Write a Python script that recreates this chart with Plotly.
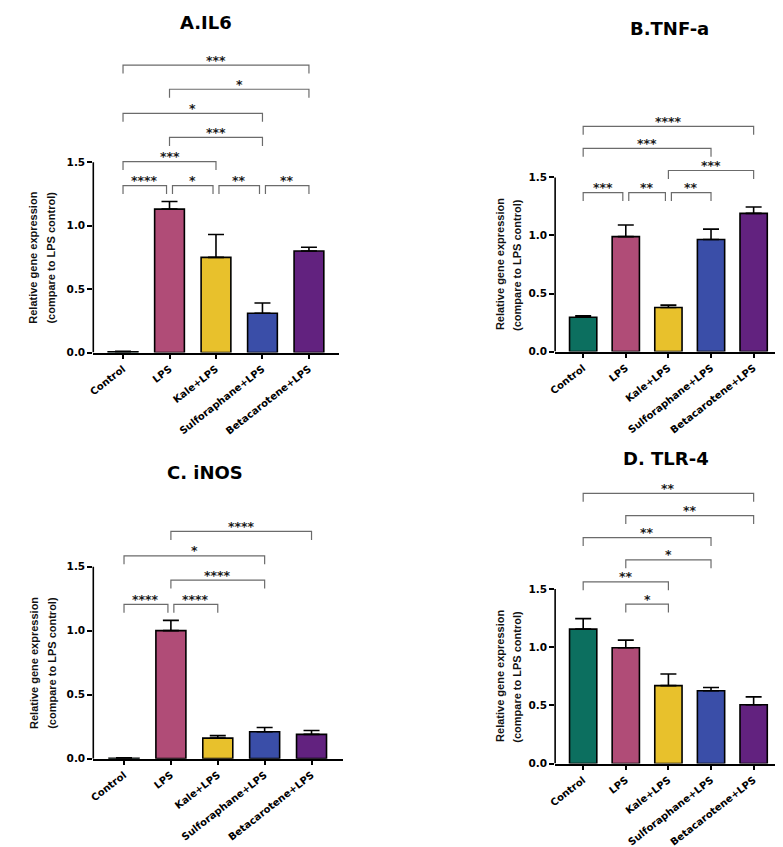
import plotly.graph_objects as go

W, H = 783, 847

categories = ["Control", "LPS", "Kale+LPS", "Sulforaphane+LPS", "Betacarotene+LPS"]
bar_colors = ["#0c6f5f", "#b04c77", "#e8c12c", "#3a4ea8", "#62227f"]

il6_mean = [0.005, 1.13, 0.75, 0.31, 0.80]
il6_sem = [0.005, 0.06, 0.18, 0.08, 0.03]
il6_comparisons = [(0, 1, "****"), (1, 2, "*"), (2, 3, "**"), (3, 4, "**"),
                   (0, 2, "***"), (1, 3, "***"), (0, 3, "*"), (1, 4, "*"), (0, 4, "***")]

tnf_mean = [0.295, 0.99, 0.38, 0.965, 1.19]
tnf_sem = [0.012, 0.10, 0.02, 0.09, 0.055]
tnf_comparisons = [(0, 1, "***"), (1, 2, "**"), (2, 3, "**"),
                   (2, 4, "***"), (0, 3, "***"), (0, 4, "****")]

inos_mean = [0.003, 1.0, 0.16, 0.21, 0.19]
inos_sem = [0.003, 0.08, 0.02, 0.033, 0.03]
inos_comparisons = [(0, 1, "****"), (1, 2, "****"), (1, 3, "****"),
                    (0, 3, "*"), (1, 4, "****")]

tlr4_mean = [1.155, 0.995, 0.67, 0.625, 0.505]
tlr4_sem = [0.09, 0.065, 0.10, 0.028, 0.068]
tlr4_comparisons = [(1, 2, "*"), (0, 2, "**"), (1, 3, "*"),
                    (0, 3, "**"), (1, 4, "**"), (0, 4, "**")]

titles = ["A.IL6", "B.TNF-a", "C. iNOS", "D. TLR-4"]
ytitle_lines = ["Relative gene expression", "(compare to LPS control)"]
ytick_vals = [0, 0.5, 1.0, 1.5]
ytick_text = ["0.0", "0.5", "1.0", "1.5"]

panels_data = [
    (il6_mean, il6_sem, il6_comparisons),
    (tnf_mean, tnf_sem, tnf_comparisons),
    (inos_mean, inos_sem, inos_comparisons),
    (tlr4_mean, tlr4_sem, tlr4_comparisons),
]

# pixel geometry of each panel (layout only)
geom = [
    dict(left=79, right=327, c0=109, sp=46.9, y0=347, ppu=127.8, ytop=2.5,
         title=(193, 15), ytx=(18.5, 36.5)),
    dict(left=545, right=773, c0=573.3, sp=43.0, y0=346, ppu=116.9, ytop=2.2,
         title=(660, 21), ytx=(490, 507)),
    dict(left=79, right=331, c0=110, sp=47.3, y0=756, ppu=128.9, ytop=2.0,
         title=(192, 468), ytx=(18.5, 36.5)),
    dict(left=545, right=773, c0=573.3, sp=43.0, y0=761, ppu=117.3, ytop=2.5,
         title=(657, 454), ytx=(490, 507)),
]

XTICK_FONT = dict(family="DejaVu Sans", size=10, color="black", weight="bold")
YTICK_FONT = dict(family="DejaVu Sans", size=10.5, color="black", weight="bold")

fig = go.Figure()
shapes = []
annotations = []


def assign_levels(comps):
    levels = []
    placed = []  # (level, i, j)
    prev = 0
    for (i, j, _) in comps:
        lv = prev
        while True:
            clash = False
            for (l2, a, b) in placed:
                if l2 == lv and not (j <= a or i >= b):
                    clash = True
                    break
            if not clash:
                break
            lv += 1
        placed.append((lv, i, j))
        levels.append(lv)
        prev = lv
    return levels


for k, ((mean, sem, comps), g) in enumerate(zip(panels_data, geom)):
    n = k + 1
    xa = "x" if n == 1 else f"x{n}"
    ya = "y" if n == 1 else f"y{n}"
    xkey = "xaxis" if n == 1 else f"xaxis{n}"
    ykey = "yaxis" if n == 1 else f"yaxis{n}"

    x0 = (g["left"] - g["c0"]) / g["sp"]
    x1 = (g["right"] - g["c0"]) / g["sp"]
    top_px = g["y0"] - g["ytop"] * g["ppu"]

    fig.add_trace(go.Bar(
        x=list(range(len(categories))), y=mean,
        width=0.64,
        marker=dict(color=bar_colors, line=dict(color="black", width=1.6)),
        error_y=dict(type="data", array=sem, arrayminus=[0] * len(sem), symmetric=False,
                     color="black", thickness=1.6, width=8),
        xaxis=xa, yaxis=ya, showlegend=False, hoverinfo="skip",
    ))

    fig.layout[xkey] = dict(
        domain=[g["left"] / W, g["right"] / W], anchor=ya,
        range=[x0, x1], tickmode="array", tickvals=list(range(len(categories))),
        ticktext=categories, tickangle=-38, tickfont=XTICK_FONT,
        showline=True, linecolor="black", linewidth=1.6,
        ticks="outside", ticklen=5, tickwidth=1.6, tickcolor="black",
        showgrid=False, zeroline=False, fixedrange=True,
    )
    fig.layout[ykey] = dict(
        domain=[1 - g["y0"] / H, 1 - top_px / H], anchor=xa,
        range=[0, g["ytop"]], tickmode="array", tickvals=ytick_vals, ticktext=ytick_text,
        tickfont=YTICK_FONT, showline=False,
        ticks="outside", ticklen=5, tickwidth=1.6, tickcolor="black",
        showgrid=False, zeroline=False, fixedrange=True,
    )
    # y axis line only up to 1.5
    shapes.append(dict(type="line", xref=f"{xa} domain", yref=ya, x0=0, x1=0,
                       y0=0, y1=max(ytick_vals), line=dict(color="black", width=1.6)))

    # significance brackets
    levels = assign_levels(comps)
    base = max(m + s for m, s in zip(mean, sem)) + 0.125
    step = 0.19
    drop = 8.5 / g["ppu"]
    shrink = 3.0 / g["sp"]
    for (i, j, lab), lv in zip(comps, levels):
        yl = base + lv * step
        xi, xj = float(i), float(j)
        for (i2, j2, _), lv2 in zip(comps, levels):
            if lv2 == lv and (i2, j2) != (i, j):
                if j2 == i:
                    xi += shrink
                if i2 == j:
                    xj -= shrink
        shapes.append(dict(type="path", xref=xa, yref=ya,
                           path=f"M {xi},{yl - drop} L {xi},{yl} L {xj},{yl} L {xj},{yl - drop}",
                           line=dict(color="#6b6b6b", width=1.2)))
        annotations.append(dict(x=(xi + xj) / 2, y=yl, xref=xa, yref=ya, text=lab,
                                showarrow=False, yanchor="middle", xanchor="center", yshift=5,
                                font=dict(family="DejaVu Sans", size=12.5, color="#1a1a1a",
                                          weight="bold")))

    # title
    tx, ty = g["title"]
    annotations.append(dict(x=tx / W, y=1 - ty / H, xref="paper", yref="paper",
                            text=titles[k], showarrow=False, xanchor="center", yanchor="middle",
                            font=dict(family="DejaVu Sans", size=18, color="black",
                                      weight="bold")))
    # y-axis title (two lines)
    ymid = g["y0"] - 0.75 * g["ppu"]
    for line_txt, lx in zip(ytitle_lines, g["ytx"]):
        annotations.append(dict(x=lx / W, y=1 - ymid / H, xref="paper", yref="paper",
                                text=line_txt, showarrow=False, textangle=-90,
                                xanchor="center", yanchor="middle",
                                font=dict(family="Liberation Sans", size=11, color="#111",
                                          weight="bold")))

fig.update_layout(
    width=W, height=H,
    margin=dict(l=0, r=0, t=0, b=0),
    paper_bgcolor="white", plot_bgcolor="white",
    shapes=shapes, annotations=annotations,
    bargap=0.36,
)

fig.write_html("out.html")
